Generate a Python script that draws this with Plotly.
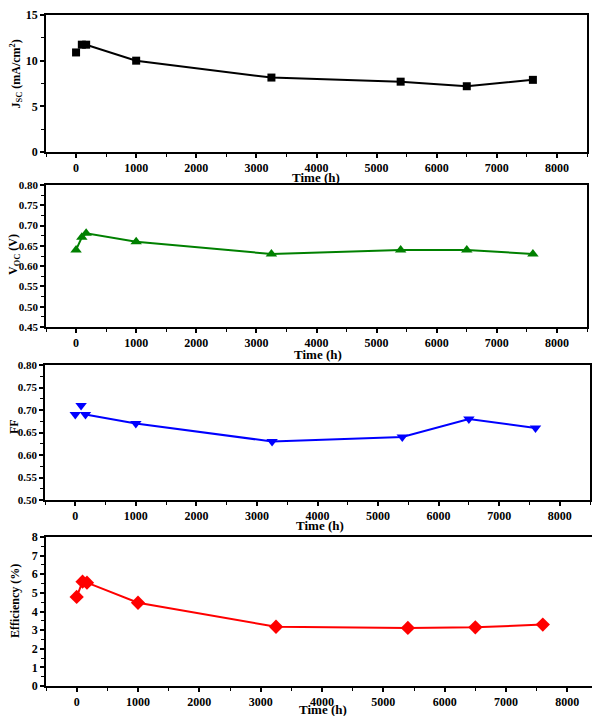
import plotly.graph_objects as go

# ---- data ----
time_h = [0, 96, 168, 1000, 3250, 5400, 6500, 7600]
jsc = [10.9, 11.75, 11.75, 10.0, 8.15, 7.7, 7.2, 7.9]
voc = [0.64, 0.671, 0.681, 0.66, 0.63, 0.64, 0.64, 0.63]
ff = [0.69, 0.71, 0.69, 0.67, 0.63, 0.64, 0.68, 0.66]
eff = [4.78, 5.6, 5.55, 4.47, 3.18, 3.12, 3.15, 3.3]
x_ticks = [0, 1000, 2000, 3000, 4000, 5000, 6000, 7000, 8000]

# page body has an 8px margin, so the figure is offset by 8px
OFF = 8
W, H = 600 - OFF, 716 - OFF
FONT = "Liberation Serif, Times New Roman, serif"


def fx(px):
    return min(max((px - OFF) / W, 0), 1)


def fy(py):
    return min(max(1 - (py - OFF) / H, 0), 1)


panels = [
    dict(y=jsc, color="black", symbol="square", size=8, line_start=1,
         yr=[0, 15], dtick=5, minor=2.5, fmt="d", yfs=12,
         px=(46, 587), py=(15, 152),
         ytitle="<b>J<sub>SC</sub> (mA/cm<sup>2</sup>)</b>", ytx=16.5, yty=74,
         xtx=316, xty=177),
    dict(y=voc, color="#008000", symbol="triangle-up", size=10, line_start=0,
         yr=[0.45, 0.80], dtick=0.05, minor=0.025, fmt=".2f", yfs=11,
         px=(46, 587), py=(185, 327),
         ytitle="<b>V<sub>OC</sub> (V)</b>", ytx=14, yty=255,
         xtx=318, xty=355),
    dict(y=ff, color="#0000FF", symbol="triangle-down", size=10, line_start=2,
         yr=[0.50, 0.80], dtick=0.05, minor=0.025, fmt=".2f", yfs=11,
         px=(45, 590), py=(365, 500),
         ytitle="<b>FF</b>", ytx=14, yty=427,
         xtx=320, xty=525),
    dict(y=eff, color="#FF0000", symbol="diamond", size=11, line_start=0,
         yr=[0, 8], dtick=1, minor=0.5, fmt="d", yfs=12,
         px=(46, 598), py=(537, 686),
         ytitle="<b>Efficiency (%)</b>", ytx=15, yty=601,
         xtx=323, xty=709),
]

fig = go.Figure()
annotations = []
for i, p in enumerate(panels, start=1):
    xa = "x" if i == 1 else f"x{i}"
    ya = "y" if i == 1 else f"y{i}"
    s = p["line_start"]
    fig.add_trace(go.Scatter(x=time_h[s:], y=p["y"][s:], mode="lines",
                             line=dict(color=p["color"], width=2),
                             xaxis=xa, yaxis=ya, showlegend=False, hoverinfo="skip"))
    fig.add_trace(go.Scatter(x=time_h, y=p["y"], mode="markers",
                             marker=dict(color=p["color"], symbol=p["symbol"], size=p["size"],
                                         line=dict(width=0)),
                             xaxis=xa, yaxis=ya, showlegend=False, cliponaxis=False))
    xd = [fx(p["px"][0]), fx(p["px"][1])]
    yd = [fy(p["py"][1]), fy(p["py"][0])]
    axis_common = dict(showgrid=False, zeroline=False, showline=True, linecolor="black",
                       linewidth=1.5, mirror=True, ticks="outside", ticklen=4, tickwidth=1.5,
                       tickcolor="black", automargin=False)
    fig.layout[f"xaxis{'' if i == 1 else i}"] = dict(
        domain=xd, anchor=ya, range=[-500, 8500], tickvals=x_ticks,
        tickfont=dict(family=FONT, size=12, color="black", weight="bold"),
        minor=dict(dtick=500, tick0=0, ticks="outside", ticklen=3, tickcolor="black", tickwidth=1),
        **axis_common)
    fig.layout[f"yaxis{'' if i == 1 else i}"] = dict(
        domain=yd, anchor=xa, range=p["yr"], dtick=p["dtick"], tick0=p["yr"][0],
        tickformat=p["fmt"], ticklabelstandoff=0,
        tickfont=dict(family=FONT, size=p["yfs"], color="black", weight="bold"),
        minor=dict(dtick=p["minor"], ticks="outside", ticklen=3, tickcolor="black", tickwidth=1),
        **axis_common)
    annotations.append(dict(text=p["ytitle"], x=fx(p["ytx"]), y=fy(p["yty"]),
                            xref="paper", yref="paper", textangle=-90, showarrow=False,
                            xanchor="center", yanchor="middle",
                            font=dict(family=FONT, size=12, color="black")))
    annotations.append(dict(text="<b>Time (h)</b>", x=fx(p["xtx"]), y=fy(p["xty"]),
                            xref="paper", yref="paper", showarrow=False,
                            xanchor="center", yanchor="middle",
                            font=dict(family=FONT, size=13, color="black")))

fig.update_layout(width=W, height=H, margin=dict(l=0, r=0, t=0, b=0),
                  paper_bgcolor="white", plot_bgcolor="white",
                  font=dict(family=FONT, color="black"),
                  annotations=annotations)
fig.write_html("out.html")
